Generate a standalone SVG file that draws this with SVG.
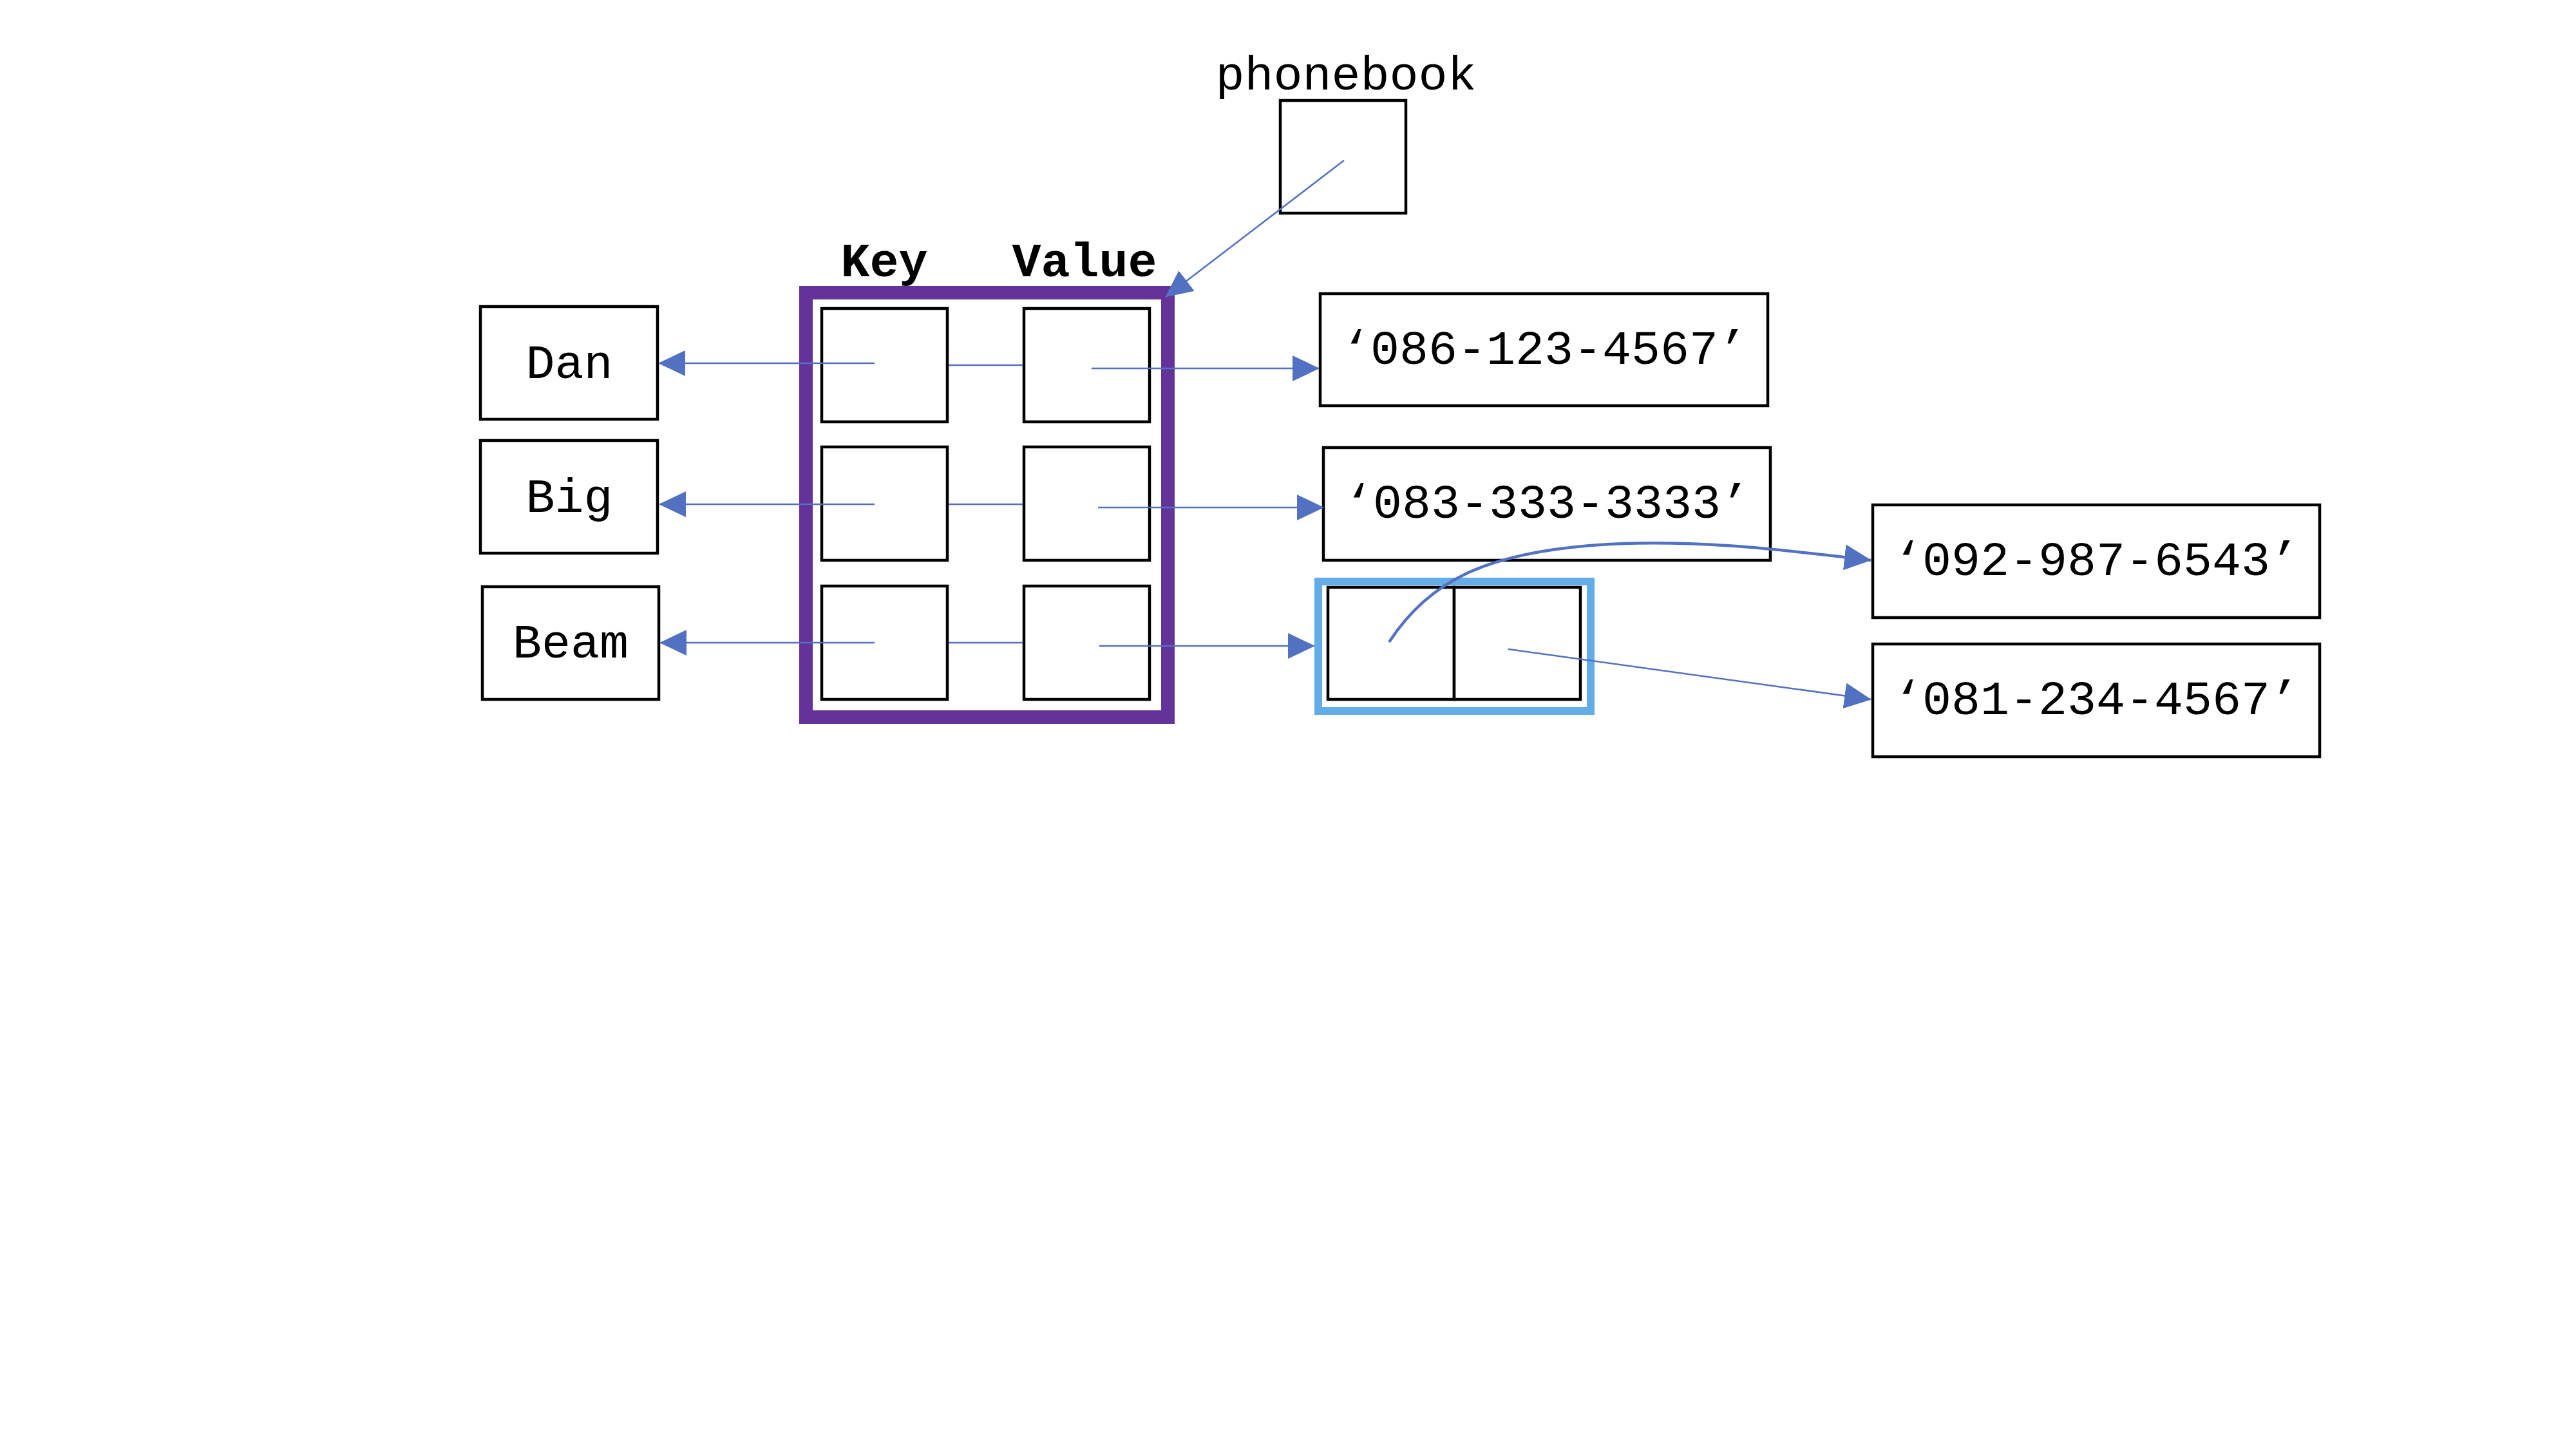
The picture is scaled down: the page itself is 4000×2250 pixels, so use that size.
<svg xmlns="http://www.w3.org/2000/svg" width="4000" height="2250" viewBox="0 0 4000 2250">
  <style>
    .box { fill: #ffffff; stroke: #000000; stroke-width: 4.5; }
    .txt { font-family: "Liberation Mono", "Courier New", monospace; font-size: 75px; fill: #000000; text-anchor: middle; }
    .bold { font-weight: bold; }
    .dict { fill: none; stroke: #643399; stroke-width: 21; }
    .pair { fill: none; stroke: #63ACE8; stroke-width: 12; }
    .conn { fill: none; stroke: #5271C2; stroke-width: 2.5; }
    .arrow { marker-end: url(#ah); }
  </style>
  <defs>
    <marker id="ah" markerUnits="userSpaceOnUse" viewBox="0 0 42 40" markerWidth="42" markerHeight="40" refX="41" refY="20" orient="auto">
      <path d="M0,0 L42,20 L0,40 Z" fill="#5271C2"/>
    </marker>
  </defs>
  <rect width="4000" height="2250" fill="#ffffff"/>

  <g id="phonebook">
    <text class="txt" x="2090" y="139">phonebook</text>
    <rect class="box" x="1988" y="156" width="195" height="175"/>
  </g>

  <g id="dict">
    <rect class="dict" x="1251.5" y="454.5" width="562" height="659"/>
    <text class="txt bold" x="1373" y="429">Key</text>
    <text class="txt bold" x="1684" y="429">Value</text>
  </g>
  <g id="key1"><rect class="box" x="1276" y="479" width="195" height="176"/></g>
  <g id="key2"><rect class="box" x="1276" y="694" width="195" height="176"/></g>
  <g id="key3"><rect class="box" x="1276" y="910" width="195" height="176"/></g>
  <g id="val1"><rect class="box" x="1590" y="479" width="195" height="176"/></g>
  <g id="val2"><rect class="box" x="1590" y="694" width="195" height="176"/></g>
  <g id="val3"><rect class="box" x="1590" y="910" width="195" height="176"/></g>

  <g id="dan">
    <rect class="box" x="746" y="476" width="275" height="175"/>
    <text class="txt" x="884" y="587">Dan</text>
  </g>
  <g id="big">
    <rect class="box" x="746" y="684" width="275" height="175"/>
    <text class="txt" x="884" y="795">Big</text>
  </g>
  <g id="beam">
    <rect class="box" x="749" y="911" width="274" height="175"/>
    <text class="txt" x="886" y="1021">Beam</text>
  </g>

  <g id="num1">
    <rect class="box" x="2050" y="456" width="695" height="174"/>
    <text class="txt" x="2398" y="565">‘086-123-4567’</text>
  </g>
  <g id="num2">
    <rect class="box" x="2055" y="695" width="694" height="175"/>
    <text class="txt" x="2402" y="804">‘083-333-3333’</text>
  </g>
  <g id="num3">
    <rect class="box" x="2908" y="784" width="694" height="175"/>
    <text class="txt" x="3255" y="893">‘092-987-6543’</text>
  </g>
  <g id="num4">
    <rect class="box" x="2908" y="1000" width="694" height="175"/>
    <text class="txt" x="3255" y="1109">‘081-234-4567’</text>
  </g>

  <g id="pair">
    <rect class="pair" x="2047" y="903" width="423" height="201"/>
    <rect class="box" x="2062" y="912" width="196" height="174"/>
    <rect class="box" x="2258" y="912" width="196" height="174"/>
  </g>

  <g id="connectors">
    <path class="conn arrow" d="M2087,249 L1810,461"/>
    <path class="conn arrow" d="M1358,564 L1023,564"/>
    <path class="conn" d="M1473,567 L1588,567"/>
    <path class="conn arrow" d="M1695,572 L2048,572"/>
    <path class="conn arrow" d="M1358,783 L1024,783"/>
    <path class="conn" d="M1473,783 L1588,783"/>
    <path class="conn arrow" d="M1705,788 L2055,788"/>
    <path class="conn arrow" d="M1358,998 L1025,998"/>
    <path class="conn" d="M1473,998 L1588,998"/>
    <path class="conn arrow" d="M1707,1003 L2041,1003"/>
    <path class="conn arrow" style="stroke-width:4.5" d="M2157,997 C2220,900 2310,860 2470,847 S2800,858 2905,870"/>
    <path class="conn arrow" d="M2342,1008 L2905,1086"/>
  </g>
</svg>
